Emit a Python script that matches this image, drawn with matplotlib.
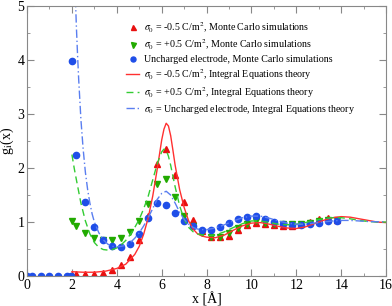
import numpy as np
import matplotlib
matplotlib.use("Agg")
import matplotlib.pyplot as plt
from matplotlib.ticker import MultipleLocator

plt.rcParams['font.family'] = ['Liberation Serif', 'DejaVu Serif']
plt.rcParams['mathtext.fontset'] = 'stix'

# Monte Carlo points
x_mc = [2.0, 2.2, 2.6, 3.0, 3.4, 3.8, 4.2, 4.6, 5.0, 5.4, 5.8, 6.2, 6.6, 7.0, 7.4,
        7.8, 8.2, 8.6, 9.0, 9.4, 9.8, 10.2, 10.6, 11.0, 11.4, 11.8, 12.2, 12.6,
        13.0, 13.4, 13.8]
mc_neg = [0.02, 0.03, 0.03, 0.04, 0.06, 0.11, 0.20, 0.35, 0.67, 1.12, 2.08, 2.35,
          1.87, 1.37, 1.03, 0.84, 0.73, 0.72, 0.75, 0.86, 0.95, 0.99, 0.96, 0.94,
          0.93, 0.93, 0.96, 1.00, 1.05, 1.08, 1.04]
mc_pos = [1.01, 0.92, 0.79, 0.70, 0.67, 0.66, 0.70, 0.81, 1.01, 1.33, 1.71, 1.79,
          1.46, 1.11, 0.92, 0.80, 0.73, 0.73, 0.80, 0.89, 0.96, 1.01, 0.99, 0.97,
          0.96, 0.96, 0.97, 0.99, 1.02, 1.04, 1.04]
x_mc0 = [0.0, 0.2, 0.6, 1.0, 1.4, 1.8, 1.98] + x_mc
mc_zero = [0, 0, 0, 0, 0, 0, 0,
           3.98, 2.25, 1.37, 0.90, 0.67, 0.55, 0.53, 0.59, 0.77, 1.08, 1.35, 1.31,
           1.17, 1.02, 0.92, 0.86, 0.86, 0.91, 0.98, 1.05, 1.09, 1.11, 1.05, 1.00,
           0.96, 0.94, 0.95, 0.97, 0.99, 1.01, 1.02]

# Integral equations theory curves
x_ie_neg = [2.0, 2.5, 3.0, 3.5, 4.0, 4.4, 4.8, 5.0, 5.2, 5.4, 5.6, 5.8, 5.9, 6.0,
            6.1, 6.2, 6.3, 6.4, 6.5, 6.6, 6.8, 7.0, 7.2, 7.4, 7.6, 7.8, 8.0, 8.4,
            8.8, 9.2, 9.6, 10.0, 10.4, 10.8, 11.2, 11.6, 12.0, 12.4, 12.8, 13.2,
            13.6, 14.0, 14.4, 14.8, 15.2, 15.6, 16.0]
ie_neg = [0.08, 0.07, 0.07, 0.09, 0.14, 0.22, 0.40, 0.55, 0.78, 1.08, 1.48, 1.98,
          2.25, 2.52, 2.72, 2.83, 2.78, 2.60, 2.33, 2.05, 1.60, 1.27, 1.02, 0.87,
          0.78, 0.74, 0.72, 0.71, 0.76, 0.85, 0.93, 0.98, 0.99, 0.96, 0.92, 0.89,
          0.88, 0.91, 0.97, 1.03, 1.08, 1.10, 1.09, 1.06, 1.03, 1.00, 0.99]
x_ie_pos = [2.0, 2.1, 2.2, 2.4, 2.6, 2.8, 3.0, 3.2, 3.4, 3.6, 3.8, 4.0, 4.2, 4.4,
            4.6, 4.8, 5.0, 5.2, 5.4, 5.6, 5.8, 6.0, 6.1, 6.2, 6.3, 6.4, 6.6, 6.8,
            7.0, 7.2, 7.4, 7.6, 7.8, 8.0, 8.4, 8.8, 9.2, 9.6, 10.0, 10.4, 10.8,
            11.2, 11.6, 12.0, 12.4, 12.8, 13.2, 13.6, 14.0, 14.4, 14.8, 15.2, 15.6,
            16.0]
ie_pos = [2.25, 2.00, 1.78, 1.35, 1.02, 0.78, 0.62, 0.53, 0.49, 0.48, 0.49, 0.52,
          0.58, 0.66, 0.77, 0.90, 1.05, 1.25, 1.48, 1.78, 2.08, 2.30, 2.35, 2.33,
          2.22, 2.05, 1.65, 1.30, 1.05, 0.90, 0.82, 0.78, 0.76, 0.75, 0.76, 0.82,
          0.90, 0.97, 1.02, 1.02, 0.99, 0.96, 0.95, 0.96, 0.99, 1.03, 1.06, 1.08,
          1.08, 1.06, 1.03, 1.01, 1.00, 1.00]
x_ie_zero = [2.15, 2.2, 2.25, 2.3, 2.4, 2.5, 2.6, 2.7, 2.8, 2.9, 3.0, 3.2, 3.4, 3.6,
             3.8, 4.0, 4.2, 4.4, 4.6, 4.8, 5.0, 5.2, 5.4, 5.6, 5.8, 6.0, 6.2, 6.4,
             6.6, 6.8, 7.0, 7.2, 7.4, 7.6, 7.8, 8.0, 8.4, 8.8, 9.2, 9.6, 10.0, 10.4,
             10.8, 11.2, 11.6, 12.0, 12.4, 12.8, 13.2, 13.6, 14.0, 14.4, 14.8, 15.2,
             16.0]
ie_zero = [5.2, 4.6, 4.1, 3.65, 2.9, 2.35, 1.92, 1.60, 1.35, 1.15, 1.00, 0.80, 0.67,
           0.59, 0.55, 0.54, 0.55, 0.57, 0.62, 0.70, 0.80, 0.93, 1.08, 1.25, 1.42,
           1.53, 1.57, 1.50, 1.35, 1.18, 1.05, 0.96, 0.90, 0.87, 0.86, 0.86, 0.89,
           0.95, 1.02, 1.08, 1.11, 1.11, 1.07, 1.02, 0.98, 0.96, 0.96, 0.98, 1.00,
           1.02, 1.03, 1.03, 1.02, 1.01, 1.00]

labels = [r'$\sigma_0$ = -0.5 C/m$^2$, Monte Carlo simulations',
          r'$\sigma_0$ = +0.5 C/m$^2$, Monte Carlo simulations',
          'Uncharged electrode, Monte Carlo simulations',
          r'$\sigma_0$ = -0.5 C/m$^2$, Integral Equations theory',
          r'$\sigma_0$ = +0.5 C/m$^2$, Integral Equations theory',
          r'$\sigma_0$ = Uncharged electrode, Integral Equations theory']

fig = plt.figure(figsize=(3.92, 3.06), dpi=100)
ax = fig.add_axes([0.069, 0.098, 0.916, 0.882])

ax.plot(x_mc, mc_neg, '^', color='#e81010', ms=4.5, ls='none', label=labels[0])
ax.plot(x_mc, mc_pos, 'v', color='#22aa00', ms=4.5, ls='none', label=labels[1])
ax.plot(x_mc0, mc_zero, 'o', color='#1f4ee8', ms=4.5, ls='none', label=labels[2])
ax.plot(x_ie_neg, ie_neg, '-', color='#ff3030', lw=1.0, label=labels[3])
ax.plot(x_ie_pos, ie_pos, '--', color='#33cc33', lw=1.0, dashes=(5, 3), label=labels[4])
ax.plot(x_ie_zero, ie_zero, '-.', color='#5a7ef0', lw=1.0, dashes=(6, 2, 1, 2),
        label=labels[5])

ax.set_xlim(0, 16)
ax.set_ylim(0, 5)
ax.xaxis.set_major_locator(MultipleLocator(2))
ax.xaxis.set_minor_locator(MultipleLocator(1))
ax.yaxis.set_major_locator(MultipleLocator(1))
ax.yaxis.set_minor_locator(MultipleLocator(0.5))
ax.tick_params(which='both', direction='in', top=True, right=True, labelsize=10,
               color='#888888')
ax.tick_params(axis='y', pad=2)
ax.tick_params(axis='x', pad=2)
ax.tick_params(which='major', length=5)
ax.tick_params(which='minor', length=2.5)
for s in ax.spines.values():
    s.set_color('#888888')

ax.set_xlabel('x [Å]', fontsize=10, labelpad=0)
ax.set_ylabel(r'g$_\mathrm{i}$(x)', fontsize=10, labelpad=1)

ax.legend(loc='upper left', bbox_to_anchor=(0.265, 0.962), frameon=False,
          fontsize=7.2, handlelength=1.3, handletextpad=0.5, labelspacing=0.3,
          borderaxespad=0, markerscale=0.8)

fig.savefig('out.png', dpi=100)
